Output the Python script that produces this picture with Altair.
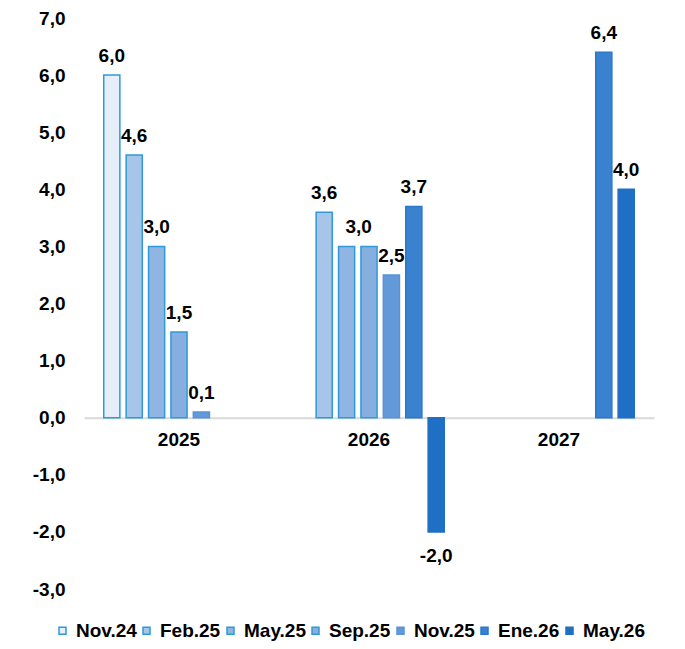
import altair as alt
import pandas as pd

years = ["2025", "2026", "2027"]
series = ["Nov.24", "Feb.25", "May.25", "Sep.25", "Nov.25", "Ene.26", "May.26"]
v2025 = [6.0, 4.6, 3.0, 1.5, 0.1, None, None]
v2026 = [None, 3.6, 3.0, 3.0, 2.5, 3.7, -2.0]
v2027 = [None, None, None, None, None, 6.4, 4.0]
y_ticks = [-3, -2, -1, 0, 1, 2, 3, 4, 5, 6, 7]

fills = ["#E6EFF9", "#A6C5E9", "#90B5E2", "#86AEDF", "#6399D9", "#3A82CF", "#1F6FC5"]
strokes = ["#2E9AD8", "#2E9AD8", "#2E9AD8", "#2E9AD8", "#5A92D6", "#2A78CA", "#1F6FC5"]

rows = []
for yr, vals in zip(years, [v2025, v2026, v2027]):
    for s, v in zip(series, vals):
        if v is not None:
            rows.append({"anio": yr, "serie": s, "valor": v})
df = pd.DataFrame(rows)

FONT = "Liberation Sans"
fmt = "replace(replace(format(%s, '.1f'), '.', ','), '\u2212', '-')"

legend = alt.Legend(
    title=None, orient="none", direction="horizontal", legendX=-31, legendY=603,
    labelFont=FONT, labelFontSize=19, labelFontWeight="bold", labelColor="black",
    symbolType="square", symbolSize=49, symbolStrokeWidth=1.5, labelOffset=4,
    columnPadding=0, padding=0, symbolOpacity=1,
)

x = alt.X(
    "anio:N",
    scale=alt.Scale(domain=years, paddingInner=0.1747, paddingOuter=0.0874),
    axis=alt.Axis(
        title=None, orient="bottom", offset=-171.3, labelAngle=0, ticks=False, tickSize=0,
        domainColor="#D9D9D9", domainWidth=2, labelFont=FONT, labelFontSize=19,
        labelFontWeight="bold", labelColor="black", labelPadding=13, grid=False,
    ),
)
xo = alt.XOffset("serie:N", scale=alt.Scale(domain=series, paddingInner=0.28, paddingOuter=0.14))
y = alt.Y(
    "valor:Q",
    scale=alt.Scale(domain=[-3, 7], nice=False, zero=True),
    axis=alt.Axis(
        title=None, values=y_ticks, labelExpr=fmt % "datum.value", domain=False,
        ticks=False, grid=False, labelFont=FONT, labelFontSize=19, labelFontWeight="bold",
        labelColor="black", labelPadding=19,
    ),
)

base = alt.Chart(df)

bars = base.mark_bar(strokeWidth=1.5).encode(
    x=x, xOffset=xo, y=y,
    fill=alt.Fill("serie:N", scale=alt.Scale(domain=series, range=fills), legend=legend),
    stroke=alt.Stroke("serie:N", scale=alt.Scale(domain=series, range=strokes), legend=legend),
)

txt = dict(font=FONT, fontSize=19, fontWeight="bold", color="black", baseline="alphabetic")

lab_pos = base.transform_filter(
    "datum.valor > 0 && !(datum.anio == '2026' && (datum.serie == 'Sep.25' || datum.serie == 'May.25'))"
).transform_calculate(lab=fmt % "datum.valor").mark_text(dy=-13, **txt).encode(
    x=x, xOffset=xo, y=y, text="lab:N"
)

lab_shift = base.transform_filter(
    "datum.anio == '2026' && datum.serie == 'May.25'"
).transform_calculate(lab=fmt % "datum.valor").mark_text(dy=-13, dx=12, **txt).encode(
    x=x, xOffset=xo, y=y, text="lab:N"
)

lab_neg = base.transform_filter("datum.valor < 0").transform_calculate(
    lab=fmt % "datum.valor"
).mark_text(dy=30, **txt).encode(x=x, xOffset=xo, y=y, text="lab:N")

chart = alt.layer(bars, lab_pos, lab_shift, lab_neg).properties(
    width=570, height=571,
    autosize=alt.AutoSizeParams(type="none"),
    padding={"left": 76, "top": 10, "right": 19, "bottom": 52},
).configure(font=FONT, view=alt.ViewConfig(stroke=None))

chart.save("out.html", embed_options={"renderer": "svg", "actions": False})
